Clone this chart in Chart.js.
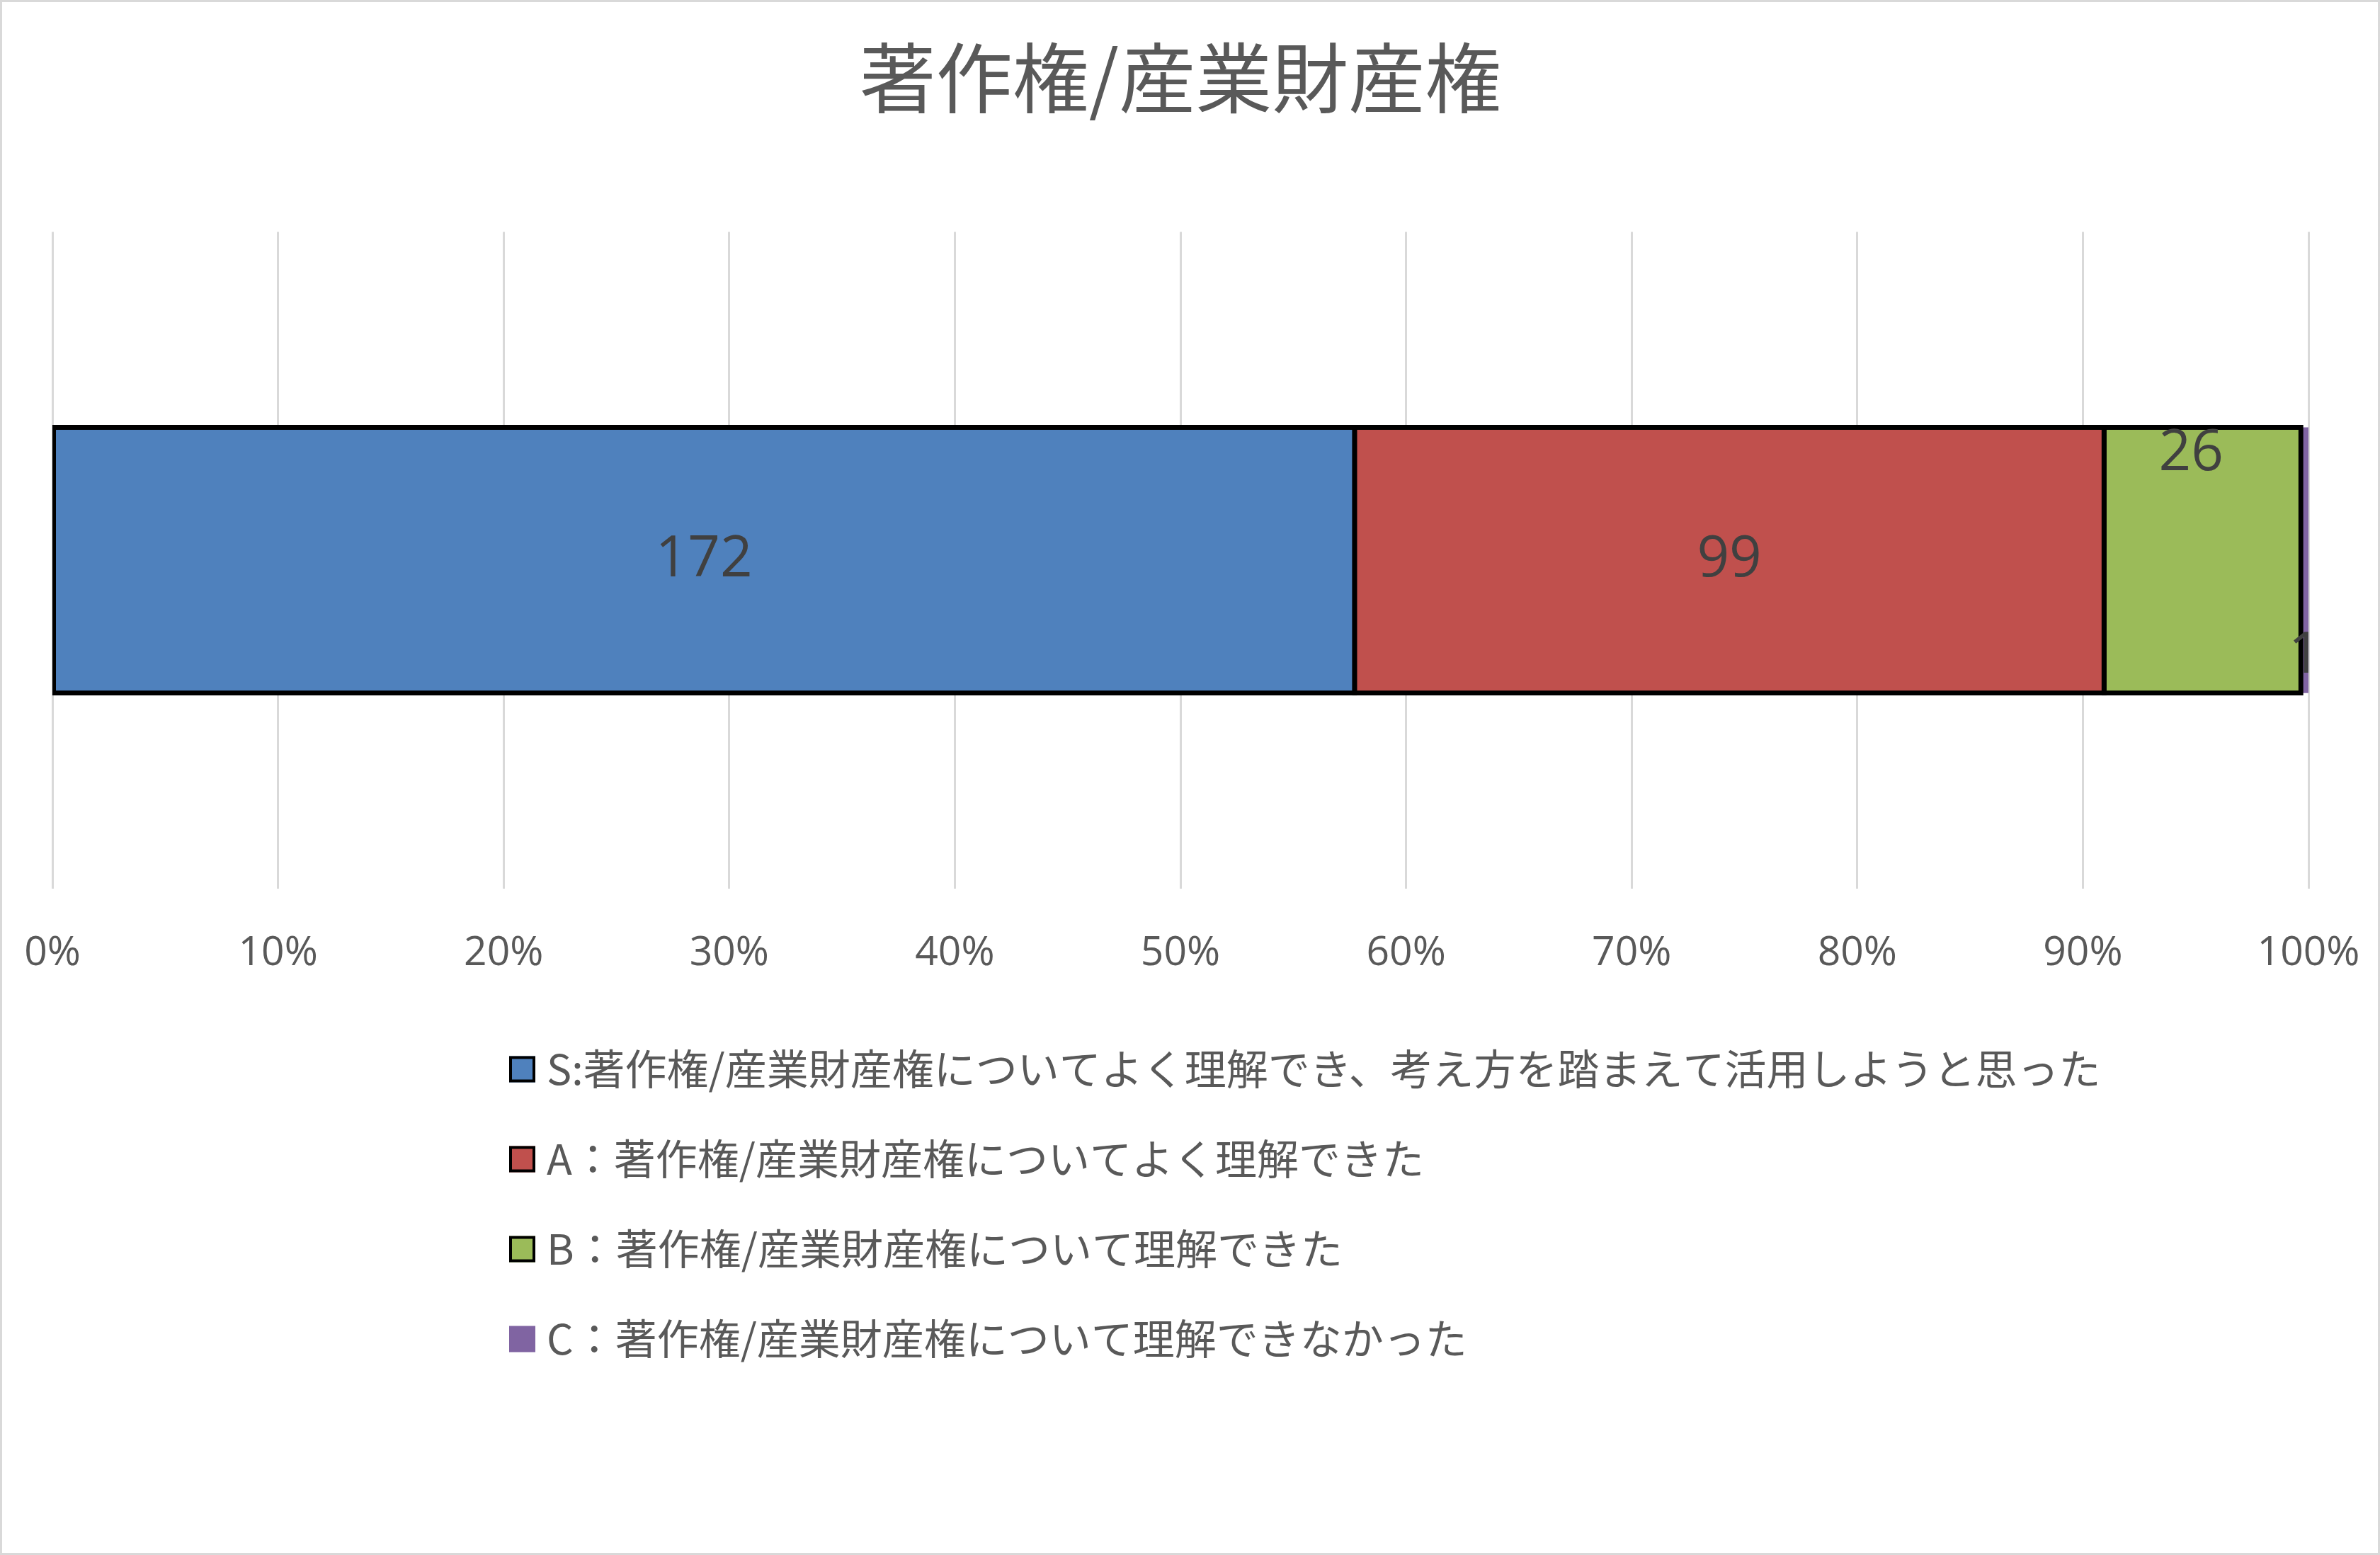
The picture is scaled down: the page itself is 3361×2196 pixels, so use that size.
<!DOCTYPE html>
<html>
<head>
<meta charset="utf-8">
<script src="https://cdn.jsdelivr.net/npm/chart.js@4/dist/chart.umd.min.js"></script>
<style>
  body { margin: 0; background: #fff; }
  canvas { display: block; }
</style>
</head>
<body>
<canvas id="chart1" width="3361" height="2196"></canvas>
<script>
// values
const categories = ['著作権/産業財産権'];
const seriesNames = [
  'S:著作権/産業財産権についてよく理解でき、考え方を踏まえて活用しようと思った',
  'A：著作権/産業財産権についてよく理解できた',
  'B：著作権/産業財産権について理解できた',
  'C：著作権/産業財産権について理解できなかった'
];
const counts = [172, 99, 26, 1];
const seriesColors = ['#4f81bd', '#c0504d', '#9bbb59', '#8064a2'];
const seriesBorders = [7, 7, 7, 0];
// where Excel put each value label inside its segment
const labelPos = ['center', 'center', 'top', 'bottom'];

const total = counts.reduce((a, b) => a + b, 0);
const cjk = '"Noto Sans CJK JP", "Noto Sans", sans-serif';
const latin = '"Open Sans", "Noto Sans", sans-serif';

const datasets = seriesNames.map((name, i) => ({
  label: name,
  data: [counts[i] / total * 100],
  rawCount: counts[i],
  backgroundColor: seriesColors[i],
  borderColor: '#000000',
  borderWidth: seriesBorders[i],
  borderSkipped: false,
  inflateAmount: seriesBorders[i] / 2,
  barPercentage: 0.405,
  categoryPercentage: 1
}));

// white page + thin grey frame like the Excel chart area
const framePlugin = {
  id: 'frame',
  beforeDraw(chart) {
    const ctx = chart.ctx;
    ctx.save();
    ctx.fillStyle = '#ffffff';
    ctx.fillRect(0, 0, chart.width, chart.height);
    ctx.strokeStyle = '#d9d9d9';
    ctx.lineWidth = 3;
    ctx.strokeRect(1.5, 1.5, chart.width - 3, chart.height - 3);
    ctx.restore();
  }
};

// value labels (no datalabels plugin available)
const valueLabels = {
  id: 'valueLabels',
  afterDatasetsDraw(chart) {
    const ctx = chart.ctx;
    ctx.save();
    ctx.font = '80px ' + latin;
    ctx.fillStyle = '#404040';
    ctx.textAlign = 'center';
    ctx.textBaseline = 'middle';
    chart.data.datasets.forEach((ds, i) => {
      const meta = chart.getDatasetMeta(i);
      meta.data.forEach(bar => {
        let cx = (bar.x + bar.base) / 2;
        let cy = bar.y;
        if (labelPos[i] === 'top') { cy = bar.y - bar.height / 2 + 38; cx -= 16; }
        if (labelPos[i] === 'bottom') cy = bar.y + bar.height / 2 - 52;
        ctx.fillText(String(ds.rawCount), cx, cy);
      });
    });
    ctx.restore();
  }
};

// legend: one item per row, left aligned under the plot
const rowLegend = {
  id: 'rowLegend',
  afterDraw(chart) {
    const ctx = chart.ctx;
    const boxX = 719, boxSize = 37, textX = 772;
    const firstRow = 1510, rowGap = 127;
    ctx.save();
    ctx.font = '59px ' + cjk;
    ctx.textBaseline = 'middle';
    ctx.textAlign = 'left';
    chart.data.datasets.forEach((ds, i) => {
      const y = firstRow + i * rowGap;
      ctx.fillStyle = ds.backgroundColor;
      ctx.fillRect(boxX, y - boxSize / 2, boxSize, boxSize);
      if (ds.borderWidth > 0) {
        ctx.strokeStyle = '#000000';
        ctx.lineWidth = 4;
        ctx.strokeRect(boxX + 2, y - boxSize / 2 + 2, boxSize - 4, boxSize - 4);
      }
      ctx.fillStyle = '#595959';
      ctx.fillText(ds.label, textX, y);
    });
    ctx.restore();
  }
};

const config = {
  type: 'bar',
  data: {
    labels: categories,
    datasets: datasets
  },
  options: {
    indexAxis: 'y',
    responsive: false,
    animation: false,
    layout: {
      padding: { left: 74, right: 101, top: 0, bottom: 815 }
    },
    scales: {
      x: {
        stacked: true,
        min: 0,
        max: 100,
        grid: {
          color: '#d9d9d9',
          lineWidth: 3,
          drawTicks: true,
          tickLength: 58,
          tickColor: 'rgba(0,0,0,0)'
        },
        border: { display: false },
        ticks: {
          stepSize: 10,
          padding: 0,
          color: '#595959',
          font: { family: latin, size: 57 },
          callback: v => v + '%'
        }
      },
      y: {
        stacked: true,
        display: false
      }
    },
    plugins: {
      legend: { display: false },
      tooltip: { enabled: false },
      title: {
        display: true,
        text: '著作権/産業財産権',
        color: '#595959',
        font: { family: cjk, size: 108, weight: 'normal' },
        padding: { top: 45, bottom: 153 }
      }
    }
  },
  plugins: [framePlugin, valueLabels, rowLegend]
};

function makegraph() {
  var ctx = document.getElementById('chart1');
  var chart = new Chart(ctx, config);
  return chart;
}
makegraph();
</script>
</body>
</html>
